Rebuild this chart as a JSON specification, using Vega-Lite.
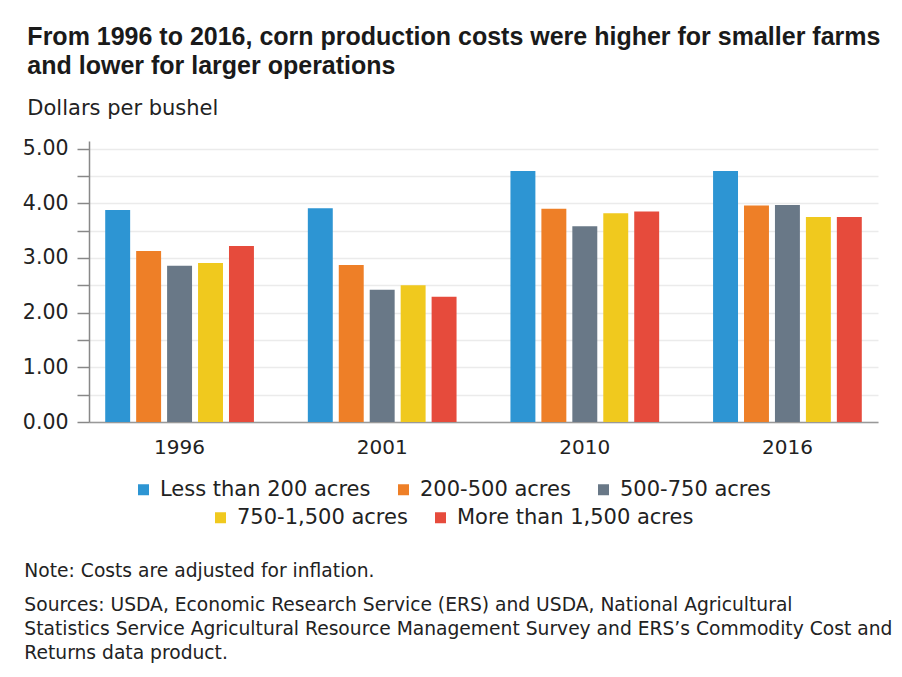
{
  "$schema": "https://vega.github.io/schema/vega-lite/v6.json",
  "background": "white",
  "padding": {"left": 22, "top": 24, "right": 10, "bottom": 5},
  "title": {
    "text": ["From 1996 to 2016, corn production costs were higher for smaller farms", "and lower for larger operations"],
    "subtitle": "Dollars per bushel",
    "anchor": "start",
    "dx": 5,
    "font": "Liberation Sans",
    "fontSize": 25,
    "fontWeight": "bold",
    "lineHeight": 29,
    "color": "#1a1a1a",
    "subtitleFont": "DejaVu Sans",
    "subtitleFontSize": 21,
    "subtitleColor": "#222222",
    "subtitlePadding": 19,
    "offset": 20
  },
  "datasets": {
    "costs": [
      {"year": "1996", "size": "Less than 200 acres", "cost": 3.88},
      {"year": "1996", "size": "200-500 acres", "cost": 3.13},
      {"year": "1996", "size": "500-750 acres", "cost": 2.86},
      {"year": "1996", "size": "750-1,500 acres", "cost": 2.91},
      {"year": "1996", "size": "More than 1,500 acres", "cost": 3.22},
      {"year": "2001", "size": "Less than 200 acres", "cost": 3.91},
      {"year": "2001", "size": "200-500 acres", "cost": 2.87},
      {"year": "2001", "size": "500-750 acres", "cost": 2.42},
      {"year": "2001", "size": "750-1,500 acres", "cost": 2.50},
      {"year": "2001", "size": "More than 1,500 acres", "cost": 2.29},
      {"year": "2010", "size": "Less than 200 acres", "cost": 4.59},
      {"year": "2010", "size": "200-500 acres", "cost": 3.90},
      {"year": "2010", "size": "500-750 acres", "cost": 3.58},
      {"year": "2010", "size": "750-1,500 acres", "cost": 3.82},
      {"year": "2010", "size": "More than 1,500 acres", "cost": 3.85},
      {"year": "2016", "size": "Less than 200 acres", "cost": 4.59},
      {"year": "2016", "size": "200-500 acres", "cost": 3.96},
      {"year": "2016", "size": "500-750 acres", "cost": 3.97},
      {"year": "2016", "size": "750-1,500 acres", "cost": 3.75},
      {"year": "2016", "size": "More than 1,500 acres", "cost": 3.75}
    ]
  },
  "vconcat": [
    {
      "width": 789,
      "height": 281,
      "title": {
        "text": "Note: Costs are adjusted for inflation.",
        "subtitle": [
          "Sources: USDA, Economic Research Service (ERS) and USDA, National Agricultural",
          "Statistics Service Agricultural Resource Management Survey and ERS’s Commodity Cost and",
          "Returns data product."
        ],
        "orient": "bottom",
        "anchor": "start",
        "dx": 2,
        "font": "DejaVu Sans",
        "fontSize": 18.7,
        "fontWeight": "normal",
        "color": "#222222",
        "subtitleFont": "DejaVu Sans",
        "subtitleFontSize": 18.7,
        "subtitleColor": "#222222",
        "subtitleLineHeight": 24,
        "subtitlePadding": 15,
        "offset": 34
      },
      "data": {"name": "costs"},
      "encoding": {
        "x": {
          "field": "year",
          "type": "nominal",
          "scale": {"paddingInner": 0.266, "paddingOuter": 0.08},
          "axis": {
            "title": null,
            "labelAngle": 0,
            "ticks": false,
            "domainColor": "#999999",
            "domainWidth": 1.5,
            "labelFont": "DejaVu Sans",
            "labelFontSize": 20,
            "labelColor": "#222222",
            "labelPadding": 15
          }
        },
        "xOffset": {
          "field": "size",
          "type": "nominal",
          "scale": {
            "domain": ["Less than 200 acres", "200-500 acres", "500-750 acres", "750-1,500 acres", "More than 1,500 acres"],
            "paddingInner": 0.194,
            "paddingOuter": 0
          }
        },
        "y": {
          "field": "cost",
          "type": "quantitative",
          "scale": {"domain": [0, 5.14], "nice": false},
          "axis": {
            "title": null,
            "values": [0, 0.5, 1, 1.5, 2, 2.5, 3, 3.5, 4, 4.5, 5],
            "labelExpr": "datum.value % 1 === 0 ? format(datum.value, '.2f') : ''",
            "grid": true,
            "gridColor": "#ebebeb",
            "gridWidth": 1.5,
            "tickColor": "#888888",
            "tickSize": 12,
            "tickWidth": 1.5,
            "domainColor": "#888888",
            "domainWidth": 1.5,
            "labelFont": "DejaVu Sans",
            "labelFontSize": 20.5,
            "labelColor": "#222222",
            "labelPadding": 9
          }
        }
      },
      "layer": [
        {
          "transform": [{"filter": {"field": "size", "oneOf": ["Less than 200 acres", "200-500 acres", "500-750 acres"]}}],
          "mark": {"type": "bar"},
          "encoding": {
            "color": {
              "field": "size",
              "type": "nominal",
              "scale": {"domain": ["Less than 200 acres", "200-500 acres", "500-750 acres"], "range": ["#2D95D3", "#EE7F27", "#697887"]},
              "legend": {"title": null, "orient": "none", "legendX": 44, "legendY": 338}
            }
          }
        },
        {
          "transform": [{"filter": {"field": "size", "oneOf": ["750-1,500 acres", "More than 1,500 acres"]}}],
          "mark": {"type": "bar"},
          "encoding": {
            "color": {
              "field": "size",
              "type": "nominal",
              "scale": {"domain": ["750-1,500 acres", "More than 1,500 acres"], "range": ["#F0C91E", "#E64B3C"]},
              "legend": {"title": null, "orient": "none", "legendX": 121, "legendY": 366}
            }
          }
        }
      ],
      "resolve": {"scale": {"color": "independent"}, "legend": {"color": "independent"}}
    }
  ],
  "resolve": {"scale": {"color": "independent"}, "legend": {"color": "independent"}},
  "config": {
    "view": {"stroke": null},
    "legend": {
      "direction": "horizontal",
      "symbolType": "square",
      "symbolSize": 121,
      "symbolStrokeWidth": 0,
      "labelFont": "DejaVu Sans",
      "labelFontSize": 21,
      "labelLimit": 500,
      "labelColor": "#222222",
      "labelOffset": 6,
      "columnPadding": 22,
      "padding": 0
    }
  }
}
